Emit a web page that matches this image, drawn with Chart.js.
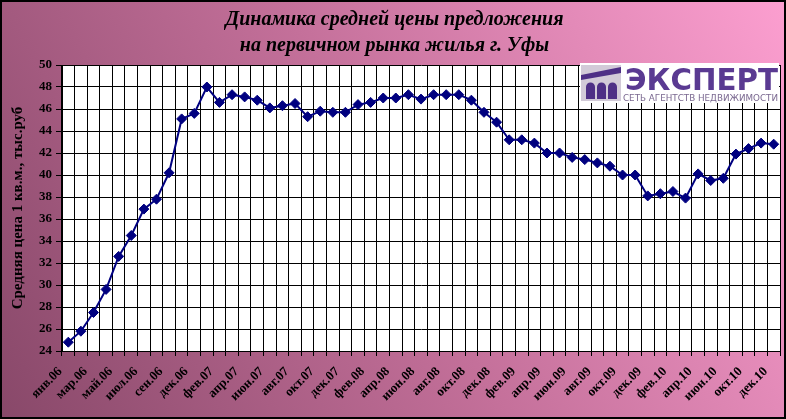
<!DOCTYPE html>
<html>
<head>
<meta charset="utf-8">
<script src="https://cdn.jsdelivr.net/npm/chart.js@4"></script>
<style>body{margin:0;background:#fff}</style>
</head>
<body>
<canvas id="priceChart" width="786" height="419"></canvas>
<script type="text/javascript">
  var months = ["янв.06","фев.06","мар.06","апр.06","май.06","июн.06","июл.06","авг.06","сен.06","ноя.06",
    "дек.06","янв.07","фев.07","мар.07","апр.07","май.07","июн.07","июл.07","авг.07","сен.07",
    "окт.07","ноя.07","дек.07","янв.08","фев.08","мар.08","апр.08","май.08","июн.08","июл.08",
    "авг.08","сен.08","окт.08","ноя.08","дек.08","янв.09","фев.09","мар.09","апр.09","май.09",
    "июн.09","июл.09","авг.09","сен.09","окт.09","ноя.09","дек.09","янв.10","фев.10","мар.10",
    "апр.10","май.10","июн.10","авг.10","окт.10","ноя.10","дек.10"];
  var prices = [24.8, 25.8, 27.5, 29.6, 32.6, 34.5, 36.9, 37.8, 40.2, 45.1,
    45.6, 48.0, 46.6, 47.3, 47.1, 46.8, 46.1, 46.3, 46.5, 45.3,
    45.8, 45.7, 45.7, 46.4, 46.6, 47.0, 47.0, 47.3, 46.9, 47.3,
    47.3, 47.3, 46.8, 45.7, 44.8, 43.2, 43.2, 42.9, 42.0, 42.0,
    41.6, 41.4, 41.1, 40.8, 40.0, 40.0, 38.1, 38.3, 38.5, 37.9,
    40.1, 39.5, 39.7, 41.9, 42.4, 42.9, 42.8];
  var yMin = 24, yMax = 50, yStep = 2;
  var titleLines = ["Динамика средней цены предложения", "на первичном рынка жилья г. Уфы"];
  var yTitle = "Средняя цена 1 кв.м., тыс.руб";

  // gradient backdrop, white plot area, frame and the agency logo
  var backdrop = {
    id: "backdrop",
    beforeDraw: function (chart) {
      var ctx = chart.ctx, w = chart.width, h = chart.height, a = chart.chartArea;
      var g = ctx.createLinearGradient(0, h, w, 0);
      g.addColorStop(0, "#884869");
      g.addColorStop(0.5, "#c4709a");
      g.addColorStop(1, "#fc9fd0");
      ctx.save();
      ctx.fillStyle = g;
      ctx.fillRect(0, 0, w, h);
      ctx.fillStyle = "#fff";
      ctx.fillRect(a.left, a.top, a.right - a.left, a.bottom - a.top);
      ctx.restore();
    },
    afterDraw: function (chart) {
      var ctx = chart.ctx, w = chart.width, h = chart.height, a = chart.chartArea;
      ctx.save();
      ctx.strokeStyle = "#000";
      ctx.lineWidth = 2;
      ctx.strokeRect(1, 1, w - 2, h - 2);
      // logo
      var x0 = a.right - 200, y0 = a.top - 2;
      ctx.fillStyle = "#fff";
      ctx.fillRect(x0, y0, 199, 40);
      ctx.fillStyle = "#d2cad8";
      ctx.fillRect(x0 + 1, y0 + 2, 40, 36);
      ctx.fillStyle = "#4e2f86";
      ctx.beginPath();
      ctx.moveTo(x0 + 1, y0 + 12);
      ctx.lineTo(x0 + 41, y0 + 4);
      ctx.lineTo(x0 + 41, y0 + 10);
      ctx.lineTo(x0 + 1, y0 + 17);
      ctx.closePath();
      ctx.fill();
      for (var i = 0; i < 3; i++) {
        var ax = x0 + 6 + i * 11;
        ctx.beginPath();
        ctx.moveTo(ax, y0 + 36);
        ctx.lineTo(ax, y0 + 24);
        ctx.arc(ax + 4.5, y0 + 24, 4.5, Math.PI, 0);
        ctx.lineTo(ax + 9, y0 + 36);
        ctx.closePath();
        ctx.fill();
      }
      ctx.fillStyle = "#5a3a92";
      ctx.font = "bold 31px 'DejaVu Sans'";
      ctx.textBaseline = "alphabetic";
      ctx.textAlign = "left";
      ctx.fillText("ЭКСПЕРТ", x0 + 45, y0 + 27, 153);
      ctx.fillStyle = "#7a6890";
      ctx.font = "9px 'DejaVu Sans'";
      ctx.fillText("СЕТЬ АГЕНТСТВ НЕДВИЖИМОСТИ", x0 + 43, y0 + 38, 155);
      ctx.restore();
    }
  };

  var chart = new Chart("priceChart", {
    type: "line",
    data: {
      labels: months,
      datasets: [
        {
          data: prices,
          borderColor: "#000080",
          backgroundColor: "#000080",
          borderWidth: 2,
          pointStyle: "rectRot",
          pointRadius: 5,
          pointBorderWidth: 1,
          tension: 0,
          fill: false
        }
      ]
    },
    options: {
      responsive: false,
      animation: false,
      layout: { padding: { left: 9, right: 6, top: 0, bottom: 2 } },
      plugins: {
        legend: { display: false },
        tooltip: { enabled: false },
        title: {
          display: true,
          text: titleLines,
          color: "#000",
          font: { family: "'Liberation Serif'", size: 20, weight: "bold", style: "italic", lineHeight: 1.3 },
          padding: { top: 7, bottom: 6 }
        }
      },
      scales: {
        x: {
          offset: true,
          grid: { offset: true, color: "#000", lineWidth: 1, tickLength: 5, tickColor: "#000" },
          border: { color: "#000", width: 1 },
          afterFit: function (s) { s.height = 66; s.paddingLeft = 0; s.paddingRight = 0; },
          ticks: {
            autoSkip: false,
            maxRotation: 45,
            minRotation: 45,
            color: "#000",
            padding: 8,
            labelOffset: -8,
            font: { family: "'Liberation Serif'", size: 13, weight: "bold" },
            callback: function (v, i) { return i % 2 === 0 ? months[i] : ""; }
          }
        },
        y: {
          min: yMin,
          max: yMax,
          grid: { color: "#000", lineWidth: 1, tickLength: 6, tickColor: "#000" },
          border: { color: "#000", width: 1 },
          afterFit: function (s) { s.width = 53; },
          title: {
            display: true,
            text: yTitle,
            color: "#000",
            padding: { top: 0, bottom: 2 },
            font: { family: "'Liberation Serif'", size: 15, weight: "bold" }
          },
          ticks: {
            stepSize: yStep,
            color: "#000",
            padding: 4,
            font: { family: "'Liberation Serif'", size: 13, weight: "bold" }
          }
        }
      }
    },
    plugins: [backdrop]
  });
</script>
</body>
</html>
